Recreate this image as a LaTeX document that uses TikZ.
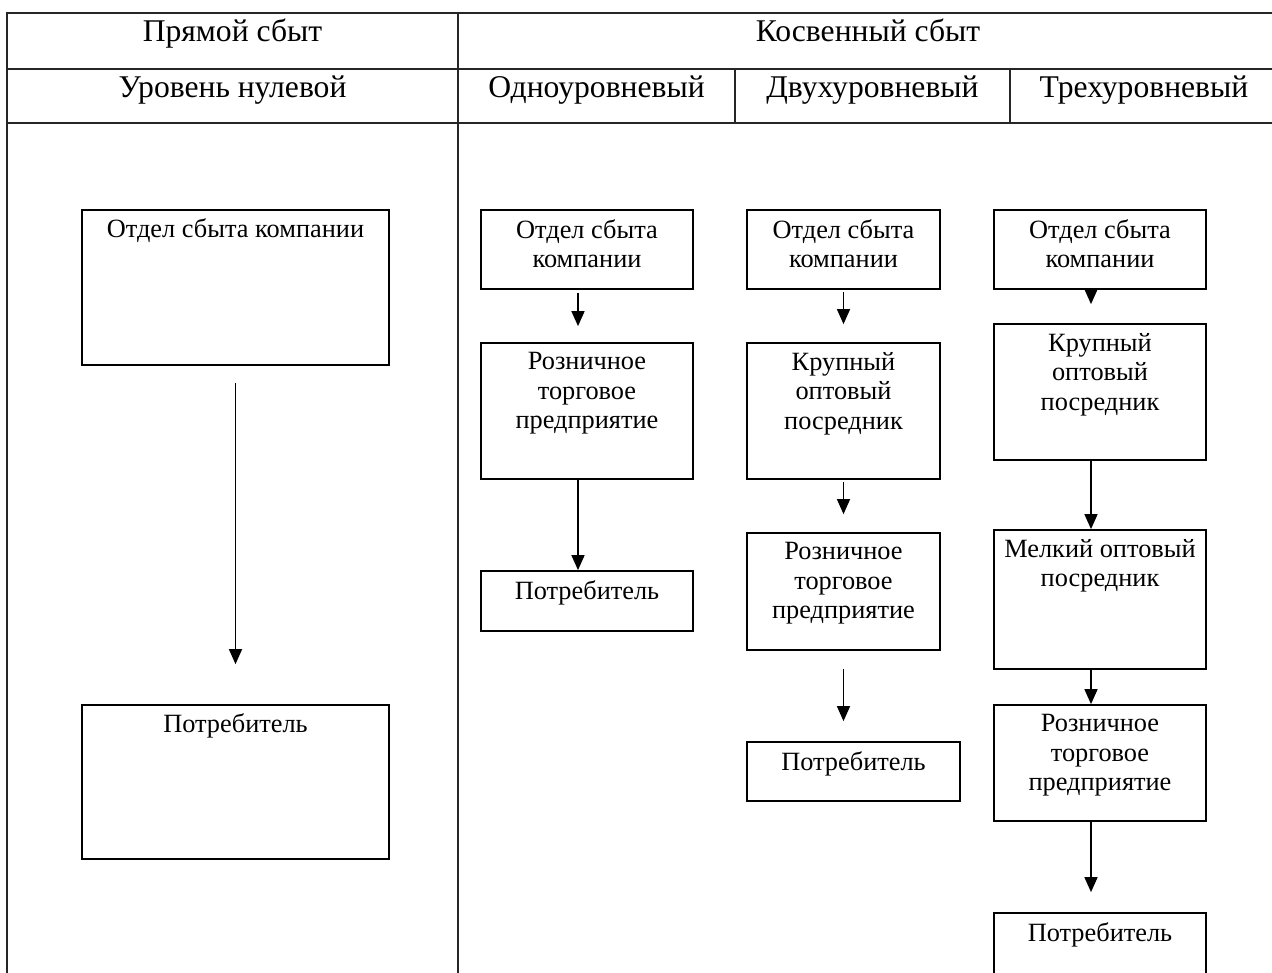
\documentclass[tikz,border=0pt]{standalone}
\usepackage{fontspec}
\setmainfont{Liberation Serif}
\usetikzlibrary{positioning,arrows.meta}

\tikzset{
  box/.style={draw, line width=1pt, inner sep=0pt},
  txt/.style={align=center, inner sep=0pt, font=\fontsize{15}{16.7}\selectfont},
  head/.style={inner sep=0pt, anchor=base, font=\fontsize{18}{21}\selectfont},
  arr/.style={line width=0.85pt, -{Triangle[length=0.3cm,width=0.26cm]}},
  grid/.style={line width=0.8pt, draw=black!85}
}

\begin{document}
\begin{tikzpicture}[x=0.02cm,y=-0.02cm]

  \clip (0,0) rectangle (1272,973);
  \fill[white] (0,0) rectangle (1272,973);

	% table
	\draw[grid] (1278,13) -- (7,13) -- (7,1000);
	\draw[grid] (7,69) -- (1278,69) (7,123) -- (1278,123);
	\draw[grid] (458,13) -- (458,1000);
	\draw[grid] (735,69) -- (735,123) (1010,69) -- (1010,123);

	\node[head] (h1) at (232.5,42) {Прямой сбыт};
	\node[head] (h2) at (868,42) {Косвенный сбыт};
	\node[head] (h3) at (232.5,98) {Уровень нулевой};
	\node[head] (h4) at (596.5,98) {Одноуровневый};
	\node[head] (h5) at (872.5,98) {Двухуровневый};
	\node[head] (h6) at (1144,98) {Трехуровневый};

	% zero level
	\node[box, minimum width=6.14cm, minimum height=3.1cm] (d0) at (235.5,287.5) {};
	\node[box, minimum width=6.14cm, minimum height=3.08cm] (d1) at (235.5,782) {};
	\node[txt, below=0.18cm of d0.north] (d0t) {Отдел сбыта компании};
	\node[txt, below=0.18cm of d1.north] (d1t) {Потребитель};
	\draw[arr, shorten <=0.34cm, shorten >=0.8cm] (d0) -- (d1);

	% one level
	\node[box, minimum width=4.24cm, minimum height=1.58cm] (a0) at (587,249.5) {};
	\node[box, minimum width=4.24cm, minimum height=2.72cm] (a1) at (587,411) {};
	\node[box, minimum width=4.24cm, minimum height=1.2cm] (a2) at (587,601) {};
	\node[txt, below=0.2cm of a0.north] (a0t) {Отдел сбыта\\компании};
	\node[txt, below=0.2cm of a1.north] (a1t) {Розничное\\торговое\\предприятие};
	\node[txt, below=0.2cm of a2.north] (a2t) {Потребитель};
	\draw[arr, shorten <=0.06cm, shorten >=0.32cm] ([xshift=-0.18cm]a0.south) -- ([xshift=-0.18cm]a1.north);
	\draw[arr] ([xshift=-0.18cm]a1.south) -- ([xshift=-0.18cm]a2.north);

	% two levels
	\node[box, minimum width=3.86cm, minimum height=1.58cm] (b0) at (843.5,249.5) {};
	\node[box, minimum width=3.86cm, minimum height=2.72cm] (b1) at (843.5,411) {};
	\node[box, minimum width=3.86cm, minimum height=2.34cm] (b2) at (843.5,591.5) {};
	\node[box, minimum width=4.26cm, minimum height=1.18cm] (b3) at (853.5,771.5) {};
	\node[txt, below=0.2cm of b0.north] (b0t) {Отдел сбыта\\компании};
	\node[txt, below=0.2cm of b1.north] (b1t) {Крупный\\оптовый\\посредник};
	\node[txt, below=0.2cm of b2.north] (b2t) {Розничное\\торговое\\предприятие};
	\node[txt, below=0.2cm of b3.north] (b3t) {Потребитель};
	\draw[arr, shorten <=0.04cm, shorten >=0.36cm] (b0) -- (b1);
	\draw[arr, shorten <=0.04cm, shorten >=0.36cm] (b1) -- (b2);
	\draw[arr, shorten <=0.36cm, shorten >=0.4cm] (b2.south) -- (b2.south |- b3.north);

	% three levels
	\node[box, minimum width=4.24cm, minimum height=1.58cm] (c0) at (1100,249.5) {};
	\node[box, minimum width=4.24cm, minimum height=2.72cm] (c1) at (1100,392) {};
	\node[box, minimum width=4.24cm, minimum height=2.78cm] (c2) at (1100,599.5) {};
	\node[box, minimum width=4.24cm, minimum height=2.32cm] (c3) at (1100,763) {};
	\node[box, minimum width=4.24cm, minimum height=2.4cm] (c4) at (1100,973) {};
	\node[txt, below=0.2cm of c0.north] (c0t) {Отдел сбыта\\компании};
	\node[txt, below=0.2cm of c1.north] (c1t) {Крупный\\оптовый\\посредник};
	\node[txt, below=0.2cm of c2.north] (c2t) {Мелкий оптовый\\посредник};
	\node[txt, below=0.2cm of c3.north] (c3t) {Розничное\\торговое\\предприятие};
	\node[txt, below=0.2cm of c4.north] (c4t) {Потребитель};
	\draw[arr, shorten >=0.38cm] ([xshift=-0.18cm]c0.south) -- ([xshift=-0.18cm]c1.north);
	\draw[arr] ([xshift=-0.18cm]c1.south) -- ([xshift=-0.18cm]c2.north);
	\draw[arr] ([xshift=-0.18cm]c2.south) -- ([xshift=-0.18cm]c3.north);
	\draw[arr, shorten >=0.4cm] ([xshift=-0.18cm]c3.south) -- ([xshift=-0.18cm]c4.north);

\end{tikzpicture}
\end{document}
